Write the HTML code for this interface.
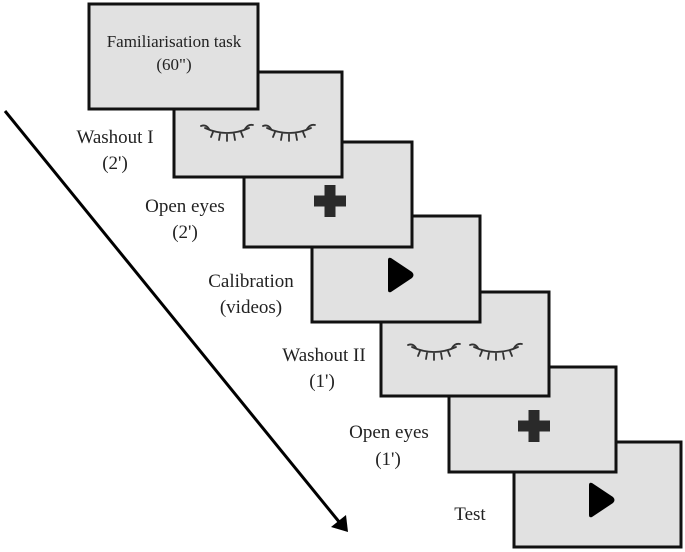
<!DOCTYPE html>
<html><head><meta charset="utf-8"><style>
html,body{margin:0;padding:0;background:#fff;}
svg{display:block;}
text{font-family:"Liberation Serif",serif;fill:#222;text-anchor:middle;}
</style></head><body>
<svg width="685" height="552" viewBox="0 0 685 552" xmlns="http://www.w3.org/2000/svg">
<defs>
<g id="eye" fill="none" stroke="#333" stroke-width="1.8" stroke-linecap="round">
<path d="M4,5 Q26,15 48,5"/>
<path d="M0,3 Q5,1 8,6"/>
<path d="M52,2 Q47,1 44,6"/>
<path d="M12,9 L10,14"/><path d="M19,11 L18,17"/><path d="M26,11.5 L26,18"/><path d="M33,11 L34,17"/><path d="M40,9 L42,14"/>
</g>
<path id="cross" d="M-5.5,-16 H5.5 V-5.5 H16 V5.5 H5.5 V16 H-5.5 V5.5 H-16 V-5.5 H-5.5 Z" fill="#2a2a2a"/>
<path id="play" d="M3,0 L24,14 Q27,17 24,20 L3,34 Q0,35 0,32 L0,2 Q0,-1 3,0 Z" fill="#000"/>
</defs>
<g stroke="#111" stroke-width="3" fill="#e1e1e1">
<rect x="514" y="442" width="167" height="105"/>
<rect x="449" y="367" width="167" height="105"/>
<rect x="381" y="292" width="168" height="104"/>
<rect x="312" y="216" width="168" height="106"/>
<rect x="244" y="142" width="168" height="105"/>
<rect x="174" y="72" width="168" height="105"/>
<rect x="89" y="4" width="169" height="105"/>
</g>
<use href="#eye" x="201" y="123"/>
<use href="#eye" x="263" y="123"/>
<use href="#eye" x="408" y="342"/>
<use href="#eye" x="470" y="342"/>
<use href="#cross" x="330" y="201"/>
<use href="#cross" x="534" y="426"/>
<use href="#play" x="388" y="258"/>
<use href="#play" x="589" y="483"/>
<line x1="5" y1="111" x2="340" y2="523" stroke="#000" stroke-width="3"/>
<path d="M348,532 L331,527 L346,515 Z" fill="#000"/>
<text x="174" y="47" font-size="17">Familiarisation task</text>
<text x="174" y="70" font-size="17">(60")</text>
<text x="115" y="143" font-size="19">Washout I</text>
<text x="115" y="169" font-size="19">(2')</text>
<text x="185" y="212" font-size="19">Open eyes</text>
<text x="185" y="238" font-size="19">(2')</text>
<text x="251" y="287" font-size="19">Calibration</text>
<text x="251" y="313" font-size="19">(videos)</text>
<text x="324" y="361" font-size="19">Washout II</text>
<text x="322" y="387" font-size="19">(1')</text>
<text x="389" y="438" font-size="19">Open eyes</text>
<text x="388" y="465" font-size="19">(1')</text>
<text x="470" y="520" font-size="19">Test</text>
</svg>
</body></html>
